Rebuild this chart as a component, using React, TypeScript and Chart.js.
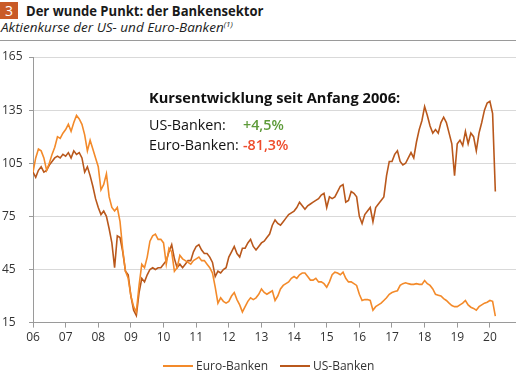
import React, { useEffect, useRef } from "react";
import { Chart, registerables } from "chart.js";

Chart.register(...registerables);

// ---- data (monthly, starting January 2006) ----
const START_YEAR = 2006;
const seriesNames = ["Euro-Banken", "US-Banken"];

const euroBanken = [
  100, 108, 113, 112, 108, 101, 105, 110, 114, 120, 119, 122,
  124, 127, 123, 128, 132, 130, 127, 121, 112, 118, 113, 108,
  103, 90, 93, 99, 86, 80, 78, 80, 72, 56, 44, 40,
  30, 24, 21, 36, 48, 46, 52, 61, 64, 65, 62, 62,
  60, 48, 57, 55, 44, 46, 53, 51, 50, 49, 48, 50,
  51, 52, 50, 50, 48, 46, 43, 35, 26, 29, 27, 26,
  27, 30, 32, 28, 25, 21, 24, 27, 29, 28, 29, 31,
  34, 32, 31, 32, 33, 27.5, 30, 34, 36, 37, 38, 40,
  41, 40, 42, 43, 43, 41, 39, 39, 40, 38, 38, 37,
  35, 38, 42, 43.5, 43, 42, 43.5, 40, 38, 38, 37, 36,
  31, 27.5, 28, 28, 27.5, 22, 24, 25, 26, 27.5, 29, 31,
  32, 32.5, 33, 36, 37, 37.5, 37, 36.6, 36.6, 37, 36.6, 36.6,
  38.8, 37, 36, 34, 31, 30.5, 30, 28.5, 27.5, 26, 24.6, 24,
  24, 25, 26, 27.5, 25, 23.7, 23, 22, 24, 25, 26, 26.5,
  27.5, 27, 18.7,
];

const usBanken = [
  100, 97, 101, 103, 100, 101, 104, 106, 108, 109, 108, 110,
  109, 111, 108, 112, 110, 111, 108, 100, 103, 98, 92, 85,
  80, 76, 78, 75, 68, 60, 46, 64, 63, 55, 44, 42,
  30, 22, 19, 32, 40, 38, 42, 45, 46, 45, 46, 46,
  48, 50, 55, 59, 51, 46, 48, 46, 48, 50, 50, 55,
  58, 59, 56, 54, 54, 52, 49, 41, 44, 43, 45, 46,
  52, 55, 58, 54, 52, 57, 57, 60, 62, 58, 56, 58,
  60, 61, 63, 65, 70, 73, 71, 70, 72, 74, 76, 77,
  78, 80, 83, 81, 79, 81, 82, 83, 84, 85, 87, 88,
  80, 86, 85, 86, 89, 92, 93, 83, 84, 89, 88, 86,
  75, 71, 76, 78, 80, 72, 80, 82, 84, 86, 98, 106,
  106, 110, 112, 106, 104, 105, 108, 111, 108, 117, 124, 129,
  137, 132, 126, 122, 124, 122, 128, 131, 128, 122, 116, 98,
  116, 118, 115, 123, 116, 122, 120, 112, 122, 128, 135, 139,
  140, 133, 89,
];

const yTicks = [15, 45, 75, 105, 135, 165];
const xTicks = [2006, 2007, 2008, 2009, 2010, 2011, 2012, 2013, 2014, 2015, 2016, 2017, 2018, 2019, 2020];
const xTickLabels = ["06", "07", "08", "09", "10", "11", "12", "13", "14", "15", "16", "17", "18", "19", "20"];

const titleNumber = "3";
const titleText = "Der wunde Punkt: der Bankensektor";
const subtitleText = "Aktienkurse der US- und Euro-Banken";
const subtitleNote = "(1)";
const annotationHeading = "Kursentwicklung seit Anfang 2006:";
const annotationRows = [
  { label: "US-Banken:", value: "+4,5%", color: "#5E9B3A" },
  { label: "Euro-Banken:", value: "-81,3%", color: "#EE4B2B" },
];

const EURO_COLOR = "#F38A2A";
const US_COLOR = "#B9581C";
const seriesColors = [EURO_COLOR, US_COLOR];
const FONT = "'Open Sans', 'Noto Sans', sans-serif";

const toPoints = (values: number[]) =>
  values.map((v, i) => ({ x: START_YEAR + i / 12, y: v }));

export default function App() {
  const canvasRef = useRef<HTMLCanvasElement | null>(null);

  useEffect(() => {
    if (!canvasRef.current) return;
    const chart = new Chart(canvasRef.current, {
      type: "line",
      data: {
        datasets: [
          {
            label: seriesNames[0],
            data: toPoints(euroBanken),
            borderColor: EURO_COLOR,
            backgroundColor: EURO_COLOR,
            borderWidth: 1.6,
            pointRadius: 0,
            tension: 0,
          },
          {
            label: seriesNames[1],
            data: toPoints(usBanken),
            borderColor: US_COLOR,
            backgroundColor: US_COLOR,
            borderWidth: 1.6,
            pointRadius: 0,
            tension: 0,
          },
        ],
      },
      options: {
        responsive: false,
        animation: false,
        devicePixelRatio: 1,
        layout: { padding: { top: 13, left: 2, right: 0, bottom: 25 } },
        plugins: {
          tooltip: { enabled: false },
          legend: { display: false },
        },
        scales: {
          x: {
            type: "linear",
            min: 2006,
            max: 2020.8,
            afterBuildTicks: (axis: any) => {
              axis.ticks = xTicks.map((v) => ({ value: v }));
            },
            ticks: {
              autoSkip: false,
              maxRotation: 0,
              padding: 3,
              font: { family: FONT, size: 12 },
              color: "#333",
              callback: (v: any) => {
                const i = xTicks.indexOf(Number(v));
                return i >= 0 ? xTickLabels[i] : "";
              },
            },
            grid: { drawOnChartArea: false, tickLength: 5, color: "#9a9a9a" },
            border: { color: "#9a9a9a" },
          },
          y: {
            min: 15,
            max: 165,
            afterBuildTicks: (axis: any) => {
              axis.ticks = yTicks.map((v) => ({ value: v }));
            },
            afterFit: (s: any) => {
              s.width = 31;
            },
            ticks: {
              crossAlign: "far",
              font: { family: FONT, size: 12 },
              color: "#333",
            },
            grid: { color: "#d9d9d9", tickLength: 4, tickColor: "#9a9a9a" },
            border: { color: "#9a9a9a" },
          },
        },
      },
    });
    return () => chart.destroy();
  }, []);

  const legendLeft = [163, 280];

  return (
    <div style={{ position: "absolute", left: 0, top: 0, width: 516, height: 373, overflow: "hidden", background: "#fff", fontFamily: FONT, color: "#222" }}>
      <div style={{ position: "absolute", left: 0, top: 2, width: 18, height: 17, background: "#C95A27", color: "#fff", fontSize: 14, lineHeight: "17px", textAlign: "center" }}>
        {titleNumber}
      </div>
      <div style={{ position: "absolute", left: 26, top: 0, fontSize: 15, fontWeight: 700, lineHeight: "20px", whiteSpace: "nowrap", color: "#1a1a1a", transform: "scaleX(0.87)", transformOrigin: "left top" }}>
        {titleText}
      </div>
      <div style={{ position: "absolute", left: 1, top: 19, fontSize: 13.5, fontStyle: "italic", lineHeight: "17px", whiteSpace: "nowrap", color: "#222" }}>
        {subtitleText}
        <sup style={{ fontSize: 8, verticalAlign: "top", lineHeight: "10px" }}>{subtitleNote}</sup>
      </div>
      <div style={{ position: "absolute", left: 0, top: 40, width: 516, height: 1, background: "#9a9a9a" }} />
      <div style={{ position: "absolute", left: 0, top: 44, width: 516, height: 329 }}>
        <canvas ref={canvasRef} width={516} height={329} />
      </div>
      <div style={{ position: "absolute", left: 149, top: 88, fontSize: 15, fontWeight: 700, lineHeight: "18px", whiteSpace: "nowrap", color: "#111", transform: "scaleX(0.975)", transformOrigin: "left top" }}>
        {annotationHeading}
      </div>
      {annotationRows.map((r, i) => (
        <div key={r.label} style={{ position: "absolute", left: 149, top: 116 + i * 20, fontSize: 14.3, lineHeight: "18px", whiteSpace: "nowrap", color: "#111" }}>
          <span>{r.label}</span>
          <span style={{ position: "absolute", left: 94, color: r.color, fontWeight: 600 }}>{r.value}</span>
        </div>
      ))}
      {seriesNames.map((name, i) => (
        <div key={name} style={{ position: "absolute", left: legendLeft[i], top: 358, height: 16, whiteSpace: "nowrap" }}>
          <div style={{ position: "absolute", left: 0, top: 7, width: 30, height: 2, background: seriesColors[i] }} />
          <span style={{ position: "absolute", left: 33, top: 0, fontSize: 12, lineHeight: "16px", color: "#333" }}>{name}</span>
        </div>
      ))}
    </div>
  );
}
